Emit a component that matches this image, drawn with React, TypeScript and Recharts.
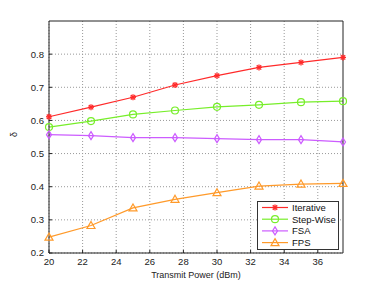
import React from 'react';
import { LineChart, Line, XAxis, YAxis, CartesianGrid } from 'recharts';

const powers = [20, 22.5, 25, 27.5, 30, 32.5, 35, 37.5];
const iterative = [0.611, 0.640, 0.670, 0.707, 0.735, 0.760, 0.775, 0.790];
const stepWise = [0.580, 0.598, 0.618, 0.630, 0.641, 0.647, 0.655, 0.658];
const fsa = [0.557, 0.554, 0.548, 0.548, 0.545, 0.542, 0.542, 0.535];
const fps = [0.248, 0.283, 0.336, 0.362, 0.382, 0.402, 0.408, 0.410];

const xTicks = [20, 22, 24, 26, 28, 30, 32, 34, 36];
const yTicks = [0.2, 0.3, 0.4, 0.5, 0.6, 0.7, 0.8];

const data = powers.map((p, i) => ({
  power: p,
  iterative: iterative[i],
  stepWise: stepWise[i],
  fsa: fsa[i],
  fps: fps[i],
}));

const FONT = '"Liberation Sans", Arial, sans-serif';

type Kind = 'star' | 'circle' | 'diamond' | 'triangle';

const series: { key: string; name: string; color: string; kind: Kind }[] = [
  { key: 'iterative', name: 'Iterative', color: '#ff2a2a', kind: 'star' },
  { key: 'stepWise', name: 'Step-Wise', color: '#77ee2a', kind: 'circle' },
  { key: 'fsa', name: 'FSA', color: '#cc5cff', kind: 'diamond' },
  { key: 'fps', name: 'FPS', color: '#ff9a2a', kind: 'triangle' },
];

const Marker = ({ cx, cy, kind, color }: { cx: number; cy: number; kind: Kind; color: string }) => {
  if (kind === 'star') {
    return (
      <g stroke={color} strokeWidth={1.3}>
        <line x1={cx - 3} y1={cy} x2={cx + 3} y2={cy} />
        <line x1={cx} y1={cy - 3} x2={cx} y2={cy + 3} />
        <line x1={cx - 2.2} y1={cy - 2.2} x2={cx + 2.2} y2={cy + 2.2} />
        <line x1={cx - 2.2} y1={cy + 2.2} x2={cx + 2.2} y2={cy - 2.2} />
      </g>
    );
  }
  if (kind === 'circle') {
    return <circle cx={cx} cy={cy} r={3.5} fill="none" stroke={color} strokeWidth={1.2} />;
  }
  if (kind === 'diamond') {
    return (
      <polygon
        points={`${cx},${cy - 4} ${cx + 2.5},${cy} ${cx},${cy + 4} ${cx - 2.5},${cy}`}
        fill="none"
        stroke={color}
        strokeWidth={1.2}
      />
    );
  }
  return (
    <polygon
      points={`${cx},${cy - 4} ${cx + 4},${cy + 3} ${cx - 4},${cy + 3}`}
      fill="none"
      stroke={color}
      strokeWidth={1.2}
    />
  );
};

const LegendBox = () => (
  <svg width={82} height={49} style={{ display: 'block' }}>
    <rect x={0.5} y={0.5} width={81} height={48} fill="#fff" stroke="#333" strokeWidth={1} />
    {series.map((s, i) => {
      const y = 6.5 + i * 11.7;
      return (
        <g key={s.key}>
          <line x1={5} y1={y} x2={31} y2={y} stroke={s.color} strokeWidth={1.2} />
          <Marker cx={18} cy={y} kind={s.kind} color={s.color} />
          <text x={35} y={y + 3.3} fontSize={9.5} fontFamily={FONT} fill="#111">
            {s.name}
          </text>
        </g>
      );
    })}
  </svg>
);

const App = () => (
  <div style={{ position: 'absolute', left: 0, top: 0, width: 379, height: 285, background: '#fff' }}>
    <LineChart width={379} height={285} data={data} margin={{ top: 20, right: 35, left: 0, bottom: 0 }}>
      <CartesianGrid
        xAxisId="b"
        yAxisId="l"
        stroke="#999"
        strokeDasharray="1 2"
        horizontalValues={yTicks}
        verticalValues={xTicks}
      />
      <XAxis
        xAxisId="b"
        dataKey="power"
        type="number"
        domain={[20, 37.5]}
        ticks={xTicks}
        height={32}
        tickSize={-3}
        tickMargin={8}
        stroke="#222"
        tick={{ fontSize: 9.5, fontFamily: FONT, fill: '#222' }}
        label={{ value: 'Transmit Power (dBm)', position: 'insideBottom', offset: 7, fontSize: 9, fontFamily: FONT, fill: '#222' }}
      />
      <XAxis
        xAxisId="t"
        orientation="top"
        dataKey="power"
        type="number"
        domain={[20, 37.5]}
        ticks={xTicks}
        height={1}
        tickSize={-3}
        tick={false}
        stroke="#222"
      />
      <YAxis
        yAxisId="l"
        type="number"
        domain={[0.2, 0.9]}
        ticks={yTicks}
        width={49}
        tickSize={-3}
        tickMargin={8}
        stroke="#222"
        tickFormatter={(v: number) => v.toFixed(1)}
        tick={{ fontSize: 9.5, fontFamily: FONT, fill: '#222' }}
        label={{ value: 'δ', angle: -90, position: 'insideLeft', offset: 14, fontSize: 9, fontFamily: FONT, fill: '#222' }}
      />
      <YAxis
        yAxisId="r"
        orientation="right"
        type="number"
        domain={[0.2, 0.9]}
        ticks={yTicks}
        width={1}
        tickSize={-3}
        tick={false}
        stroke="#222"
      />
      {series.map((s) => (
        <Line
          key={s.key}
          xAxisId="b"
          yAxisId="l"
          dataKey={s.key}
          name={s.name}
          stroke={s.color}
          strokeWidth={1.2}
          isAnimationActive={false}
          dot={(p: any) => <Marker key={`${s.key}-${p.index}`} cx={p.cx} cy={p.cy} kind={s.kind} color={s.color} />}
        />
      ))}
    </LineChart>
    <div style={{ position: 'absolute', left: 257, top: 201 }}>
      <LegendBox />
    </div>
  </div>
);

export default App;
